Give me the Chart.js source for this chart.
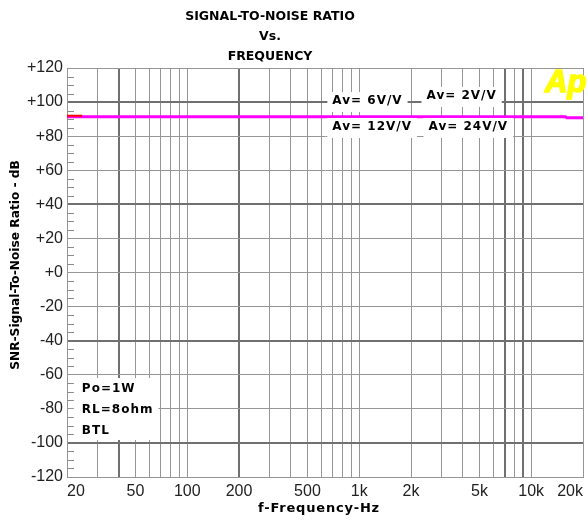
<!DOCTYPE html>
<html>
<head>
<meta charset="utf-8">
<script src="https://cdn.jsdelivr.net/npm/chart.js@4.4.1/dist/chart.umd.min.js"></script>
<style>
  html, body { margin: 0; padding: 0; background: #ffffff; }
  #wrap { width: 588px; height: 521px; position: relative; }
</style>
</head>
<body>
<div id="wrap"><canvas id="snr"></canvas></div>
<script>
// Sample frequencies (Hz) of the measured SNR trace
const traceFreq = [20, 30, 50, 100, 200, 500, 1000, 2000, 5000, 10000, 15800, 16100, 20000];
// SNR in dB; the four gain settings lie on top of each other
const snrMain = [91.4, 91.4, 91.4, 91.4, 91.4, 91.4, 91.4, 91.4, 91.4, 91.4, 91.4, 90.8, 90.8];
// Short red trace segment visible at the low-frequency start
const startFreq = [20, 24.5];
const snrStart = [92.0, 92.0];

// Log grid lines and which of them carry a label
const gridFreq = [20, 30, 40, 50, 60, 70, 80, 90, 100, 200, 300, 400, 500, 600, 700, 800, 900,
                  1000, 2000, 3000, 4000, 5000, 6000, 7000, 8000, 9000, 10000, 20000];
const labelledFreq = [20, 50, 100, 200, 500, 1000, 2000, 5000, 10000, 20000];
const heavyFreq = [40, 200, 7000, 9000];
const heavyDb = [100, 40, -40, -100];

// Title and annotation texts
const titleLines = ['SIGNAL-TO-NOISE RATIO', 'Vs.', 'FREQUENCY'];
const xTitle = 'f-Frequency-Hz';
const yTitle = 'SNR-Signal-To-Noise Ratio - dB';
const gainLabels = ['Av= 6V/V', 'Av= 2V/V', 'Av= 12V/V', 'Av= 24V/V'];
const gainFreq = [698, 2462, 698, 2529];
const gainDb = [100.6, 103.6, 85.4, 85.4];
const condLines = ['Po=1W', 'RL=8ohm', 'BTL'];
const condFreq = 24.4;
const condDb = [-68.4, -80.7, -93.0];

const fmtFreq = v => (v >= 1000 ? (v / 1000) + 'k' : String(v));
const fmtDb = v => (v > 0 ? '+' + v : (v === 0 ? '+0' : String(v)));

const decor = {
  id: 'decor',
  beforeDraw(chart) {
    const { ctx, width, height } = chart;
    ctx.save();
    ctx.fillStyle = '#ffffff';
    ctx.fillRect(0, 0, width, height);
    ctx.restore();
  },
  beforeDatasetsDraw(chart) {
    // minor 5 dB ticks along the inside of the left edge
    const { ctx, chartArea: a, scales: { y } } = chart;
    ctx.save();
    ctx.strokeStyle = '#8a8a8a';
    ctx.lineWidth = 1;
    for (let v = -115; v < 120; v += 5) {
      if (v % 20 === 0) continue;
      const py = Math.round(y.getPixelForValue(v)) + 0.5;
      ctx.beginPath();
      ctx.moveTo(a.left, py);
      ctx.lineTo(a.left + 7, py);
      ctx.stroke();
    }
    ctx.restore();
  },
  afterDraw(chart) {
    const { ctx, scales: { x, y } } = chart;
    ctx.save();

    // chart title
    ctx.fillStyle = '#000000';
    ctx.font = 'bold 12.5px "DejaVu Sans"';
    ctx.textAlign = 'center';
    ctx.textBaseline = 'middle';
    titleLines.forEach((t, i) => ctx.fillText(t, 270, 17 + i * 20));

    // axis titles
    ctx.font = 'bold 13px "DejaVu Sans"';
    ctx.letterSpacing = '0.8px';
    ctx.fillText(xTitle, 319, 509);
    ctx.letterSpacing = '0px';
    ctx.save();
    ctx.translate(16, 265);
    ctx.rotate(-Math.PI / 2);
    ctx.font = 'bold 12.2px "DejaVu Sans"';
    ctx.fillText(yTitle, 0, 0);
    ctx.restore();

    // gain-setting labels on white boxes
    ctx.font = 'bold 12px "DejaVu Sans"';
    ctx.letterSpacing = '1px';
    ctx.textAlign = 'left';
    gainLabels.forEach((t, i) => {
      const px = x.getPixelForValue(gainFreq[i]);
      const py = y.getPixelForValue(gainDb[i]);
      const w = ctx.measureText(t).width;
      ctx.fillStyle = '#ffffff';
      ctx.fillRect(px - 5, py - 9, w + 10, 20);
      ctx.fillStyle = '#000000';
      ctx.fillText(t, px, py);
    });

    // measurement conditions box
    const cx = x.getPixelForValue(condFreq);
    const cys = condDb.map(v => y.getPixelForValue(v));
    let cw = 0;
    condLines.forEach(t => { cw = Math.max(cw, ctx.measureText(t).width); });
    ctx.fillStyle = '#ffffff';
    ctx.fillRect(cx - 8, cys[0] - 11, cw + 13, cys[cys.length - 1] - cys[0] + 20);
    ctx.fillStyle = '#000000';
    condLines.forEach((t, i) => ctx.fillText(t, cx, cys[i]));
    ctx.letterSpacing = '0px';

    // analyzer logo
    ctx.fillStyle = '#ffff00';
    ctx.strokeStyle = '#ffff00';
    ctx.lineWidth = 1.6;
    ctx.lineJoin = 'round';
    ctx.font = 'italic bold 31px "Liberation Sans"';
    ctx.textBaseline = 'alphabetic';
    ctx.fillText('Ap', 545, 92);
    ctx.strokeText('Ap', 545, 92);

    ctx.restore();
  }
};

const gridColor = '#969696';
const heavyColor = '#707070';

new Chart(document.getElementById('snr'), {
  type: 'line',
  data: {
    datasets: [
      {
        label: 'start',
        data: startFreq.map((f, i) => ({ x: f, y: snrStart[i] })),
        borderColor: '#ff0000',
        borderWidth: 2,
        pointRadius: 0,
        tension: 0,
        order: 0
      },
      {
        label: 'SNR',
        data: traceFreq.map((f, i) => ({ x: f, y: snrMain[i] })),
        borderColor: '#ff00ff',
        borderWidth: 3,
        pointRadius: 0,
        tension: 0,
        order: 1
      }
    ]
  },
  options: {
    responsive: true,
    maintainAspectRatio: false,
    animation: false,
    layout: { padding: { top: 68, left: 0, right: 0, bottom: 0 } },
    plugins: {
      legend: { display: false },
      title: { display: false },
      tooltip: { enabled: false }
    },
    scales: {
      x: {
        type: 'logarithmic',
        min: 20,
        max: 20000,
        afterBuildTicks: s => { s.ticks = gridFreq.map(v => ({ value: v })); },
        afterFit: s => { s.height = 44; },
        border: { display: true, color: gridColor, width: 1 },
        grid: {
          drawTicks: false,
          color: c => (c.tick && heavyFreq.includes(c.tick.value) ? heavyColor : gridColor),
          lineWidth: c => (c.tick && heavyFreq.includes(c.tick.value) ? 2 : 1)
        },
        ticks: {
          autoSkip: false,
          maxRotation: 0,
          align: 'inner',
          padding: 5,
          color: '#222222',
          font: { family: '"Liberation Sans"', size: 16 },
          callback: v => (labelledFreq.includes(v) ? fmtFreq(v) : '')
        }
      },
      y: {
        min: -120,
        max: 120,
        afterFit: s => { s.width = 67; },
        border: { display: true, color: gridColor, width: 1 },
        grid: {
          drawTicks: false,
          color: c => (c.tick && heavyDb.includes(c.tick.value) ? heavyColor : gridColor),
          lineWidth: c => (c.tick && heavyDb.includes(c.tick.value) ? 2 : 1)
        },
        ticks: {
          stepSize: 20,
          padding: 4,
          color: '#222222',
          font: { family: '"Liberation Sans"', size: 16 },
          callback: v => fmtDb(v)
        }
      }
    }
  },
  plugins: [decor]
});
</script>
</body>
</html>
